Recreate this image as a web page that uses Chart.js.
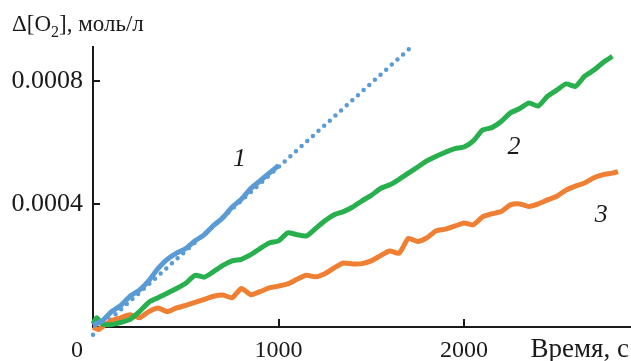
<!DOCTYPE html>
<html>
<head>
<meta charset="utf-8">
<script src="https://cdn.jsdelivr.net/npm/chart.js@4/dist/chart.umd.min.js"></script>
<style>
  html, body { margin: 0; padding: 0; background: #fff; }
  canvas { display: block; }
</style>
</head>
<body>
<canvas id="o2Chart" width="631" height="361"></canvas>
<script>
// кривая 1 (синяя), эксперимент
var t1 = [0, 50, 100, 150, 200, 250, 300, 350, 400, 450, 500, 550, 600, 650, 700, 750, 800, 850, 900, 950, 1000];
var o2_1 = [0.000005, 0.00002, 0.00005, 0.00007, 0.0001, 0.00012, 0.00015, 0.00019, 0.00022, 0.00024, 0.000255,
  0.00028, 0.0003, 0.00033, 0.000355, 0.00039, 0.000415, 0.00045, 0.000475, 0.0005, 0.000525];

// линейная аппроксимация кривой 1 (пунктир)
var tFit = [0, 1710];
var o2Fit = [-0.000025, 0.000907];

// кривая 2 (зелёная)
var t2 = [0, 20, 50, 100, 150, 200, 250, 300, 350, 400, 450, 500, 550, 600, 650, 700, 750, 800, 850, 900,
  950, 1000, 1050, 1100, 1150, 1200, 1250, 1300, 1350, 1400, 1450, 1500, 1550, 1600, 1650, 1700, 1750, 1800,
  1850, 1900, 1950, 2000, 2050, 2100, 2150, 2200, 2250, 2300, 2350, 2400, 2450, 2500, 2550, 2600, 2650, 2700,
  2750, 2800];
var o2_2 = [0.00001, 0.00003, 0.00001, 0.000008, 0.000015, 0.000025, 0.00005, 0.00008, 0.000095, 0.00011,
  0.000125, 0.000142, 0.000168, 0.000162, 0.00018, 0.0002, 0.000215, 0.00022, 0.000235, 0.000255,
  0.000273, 0.00028, 0.000306, 0.0003, 0.000296, 0.00032, 0.000345, 0.000365, 0.000375, 0.00039,
  0.00041, 0.000428, 0.00045, 0.000462, 0.00048, 0.0005, 0.00052, 0.00054,
  0.000555, 0.000568, 0.00058, 0.000585, 0.000605, 0.00064, 0.000648, 0.000668, 0.000696, 0.00071,
  0.000728, 0.000718, 0.00075, 0.00077, 0.00079, 0.000782, 0.000815, 0.000835, 0.00086, 0.00088];

// кривая 3 (оранжевая)
var t3 = [0, 30, 60, 100, 150, 200, 250, 300, 350, 400, 450, 500, 550, 600, 650, 700, 750, 800, 850, 900,
  950, 1000, 1050, 1100, 1150, 1200, 1250, 1300, 1350, 1400, 1450, 1500, 1550, 1600, 1650, 1700, 1750, 1800,
  1850, 1900, 1950, 2000, 2050, 2100, 2150, 2200, 2250, 2300, 2350, 2400, 2450, 2500, 2550, 2600, 2650, 2700,
  2750, 2800, 2830];
var o2_3 = [0, -0.000008, 0.000005, 0.00002, 0.00003, 0.00004, 0.00003, 0.00005, 0.000062, 0.00005,
  0.000062, 0.00007, 0.00008, 0.00009, 0.0001, 0.000104, 0.000095, 0.000125, 0.000105, 0.000115,
  0.000127, 0.000133, 0.00014, 0.000155, 0.000168, 0.000163, 0.000173, 0.000192, 0.000208, 0.000205,
  0.000206, 0.000215, 0.000232, 0.000247, 0.00024, 0.000288, 0.000278, 0.00029,
  0.000313, 0.000318, 0.000328, 0.000338, 0.000332, 0.000358, 0.000368, 0.000375, 0.000397, 0.0004,
  0.000392, 0.0004, 0.000413, 0.000425, 0.000445, 0.000458, 0.000468, 0.000485, 0.000495, 0.0005, 0.000505];

var xTicks = [0, 1000, 2000];
var yTicks = [0.0004, 0.0008];
var curveLabels = [
  { text: '1', x: 790, y: 0.000545 },
  { text: '2', x: 2270, y: 0.000585 },
  { text: '3', x: 2740, y: 0.000365 }
];

function pts(xs, ys) {
  return xs.map(function(x, i) { return { x: x, y: ys[i] }; });
}

var SERIF = '"Liberation Serif", "DejaVu Serif", serif';

var decorPlugin = {
  id: 'decor',
  afterDraw: function(chart) {
    var c = chart.ctx, xs = chart.scales.x, ys = chart.scales.y;
    var area = chart.chartArea;
    c.save();
    c.strokeStyle = '#1a1a1a';
    c.lineWidth = 2;
    // засечки внутрь
    yTicks.forEach(function(v) {
      var py = Math.round(ys.getPixelForValue(v));
      c.beginPath(); c.moveTo(area.left, py); c.lineTo(area.left + 7, py); c.stroke();
    });
    xTicks.forEach(function(v) {
      if (v === 0) return;
      var px = Math.round(xs.getPixelForValue(v));
      c.beginPath(); c.moveTo(px, area.bottom); c.lineTo(px, area.bottom - 8); c.stroke();
    });
    c.fillStyle = '#1a1a1a';
    c.textBaseline = 'alphabetic';
    c.font = '24px ' + SERIF;
    c.textAlign = 'center';
    xTicks.forEach(function(v) {
      var px = xs.getPixelForValue(v);
      if (v === 0) px -= 16;
      c.fillText(String(v), px, 357);
    });
    c.textAlign = 'right';
    c.font = '27px ' + SERIF;
    c.fillText('Время, с', 629, 357);
    // подпись оси Y
    c.textAlign = 'left';
    c.font = '23px ' + SERIF;
    var x0 = 12;
    c.fillText('Δ[O', x0, 31);
    x0 += c.measureText('Δ[O').width;
    c.font = '16px ' + SERIF;
    c.fillText('2', x0, 37);
    x0 += c.measureText('2').width;
    c.font = '23px ' + SERIF;
    c.fillText('], моль/л', x0, 31);
    // номера кривых
    c.font = 'italic 26px ' + SERIF;
    c.textAlign = 'center';
    c.textBaseline = 'middle';
    curveLabels.forEach(function(l) {
      c.fillText(l.text, xs.getPixelForValue(l.x), ys.getPixelForValue(l.y));
    });
    c.restore();
  }
};

function draw() {
  new Chart(document.getElementById('o2Chart'), {
    type: 'line',
    data: {
      datasets: [
        { data: pts(t1, o2_1), borderColor: '#5b9bd5', borderWidth: 5, tension: 0.2, pointRadius: 0, clip: false },
        { data: pts(t2, o2_2), borderColor: '#27b04d', borderWidth: 5, tension: 0.2, pointRadius: 0, clip: false },
        { data: pts(t3, o2_3), borderColor: '#ef7f33', borderWidth: 5, tension: 0.2, pointRadius: 0, clip: false },
        { data: pts(tFit, o2Fit), borderColor: '#5b9bd5', borderWidth: 4.5, borderDash: [0, 7.6],
          borderCapStyle: 'round', pointRadius: 0, clip: false }
      ]
    },
    options: {
      responsive: false,
      animation: false,
      layout: { padding: { top: 47, right: 0, left: 0, bottom: 0 } },
      plugins: { legend: { display: false }, tooltip: { enabled: false } },
      scales: {
        x: {
          type: 'linear', min: 0, max: 2900,
          grid: { display: false, drawTicks: false },
          border: { display: true, color: '#1a1a1a', width: 2 },
          ticks: { display: false },
          afterFit: function(s) { s.height = 34; }
        },
        y: {
          min: 0, max: 0.00091,
          grid: { display: false, drawTicks: false },
          border: { display: true, color: '#1a1a1a', width: 2 },
          afterBuildTicks: function(s) { s.ticks = yTicks.map(function(v) { return { value: v }; }); },
          ticks: {
            padding: 10, color: '#1a1a1a',
            font: { family: SERIF, size: 26 },
            callback: function(v) { return v.toFixed(4); }
          },
          afterFit: function(s) { s.width = 93; }
        }
      }
    },
    plugins: [decorPlugin]
  });
}

Promise.all([
  document.fonts.load('24px "Liberation Serif"'),
  document.fonts.load('italic 26px "Liberation Serif"')
]).then(draw, draw);
</script>
</body>
</html>
